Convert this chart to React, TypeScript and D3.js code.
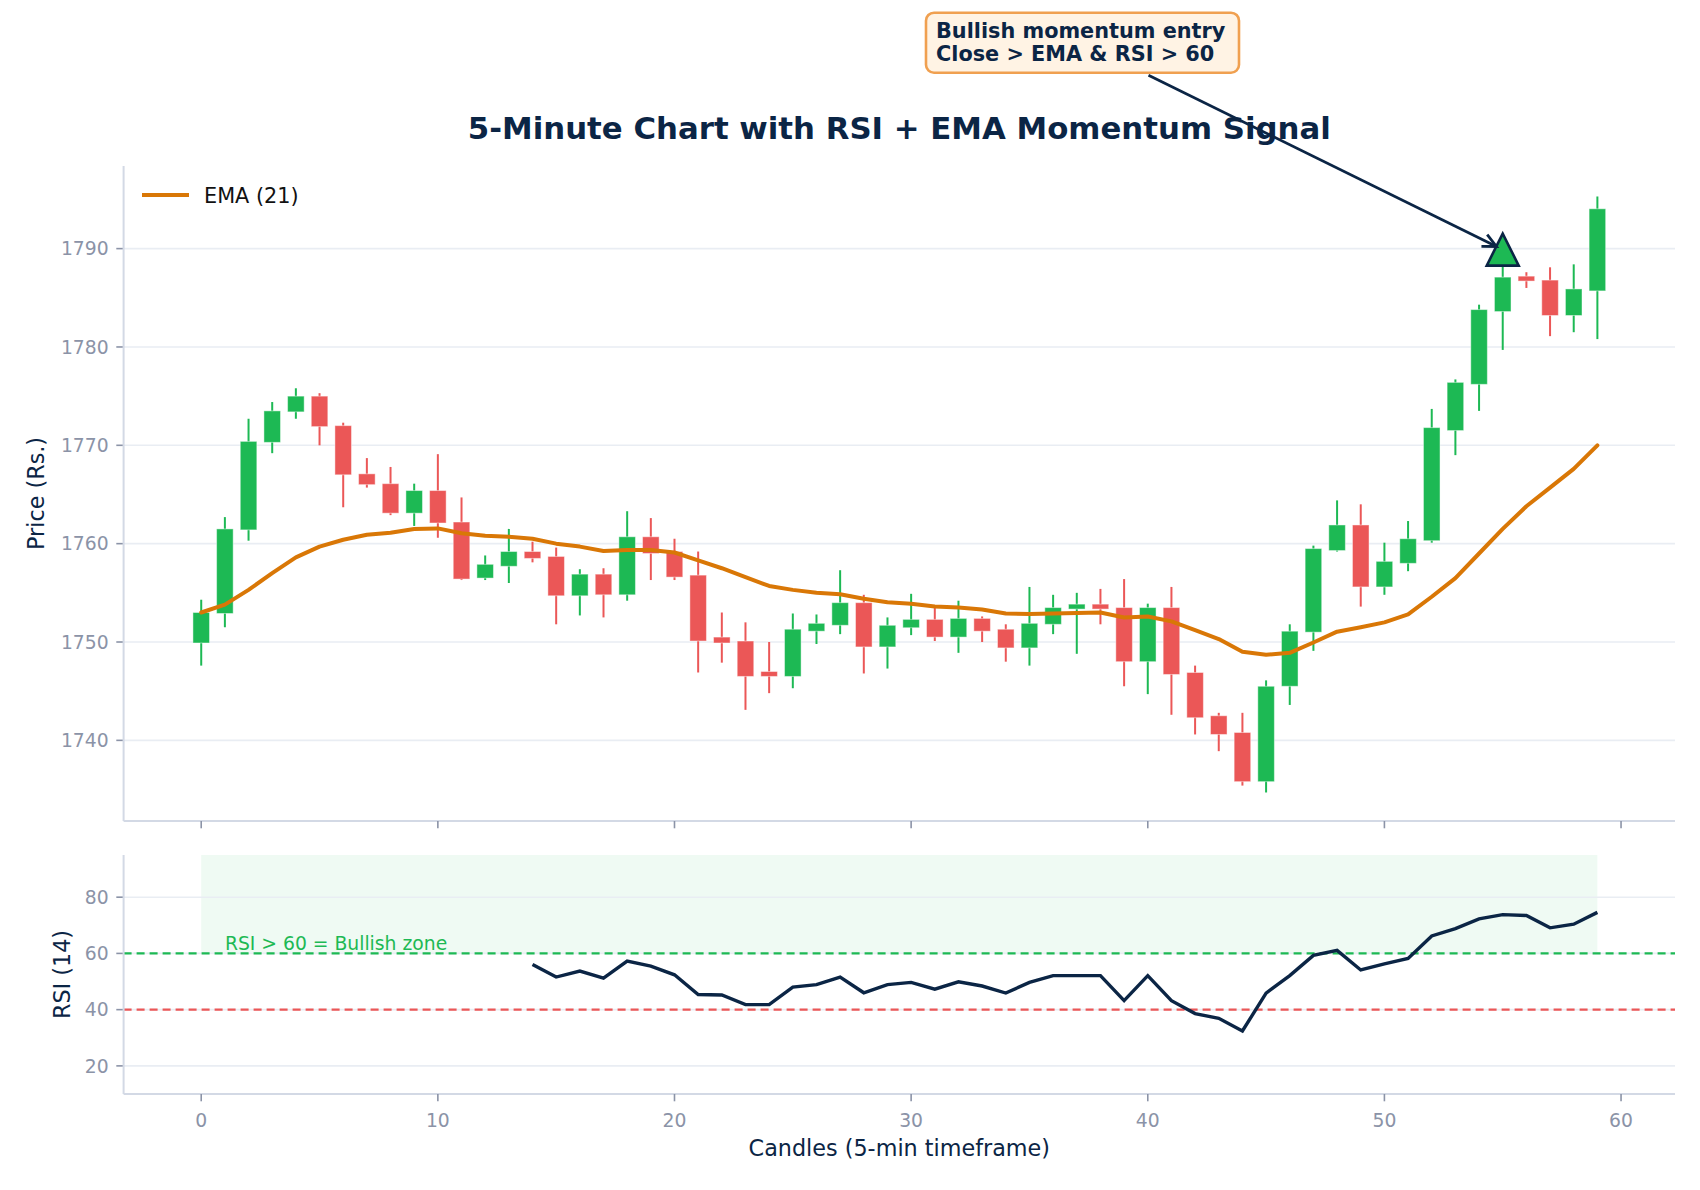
import React from 'react'
import * as d3 from 'd3'

// Candle data (index 0..59)
const opens = [
  1749.9, 1752.9, 1761.4, 1770.3, 1773.4, 1775.0, 1772.0, 1767.1, 1766.1, 1763.1,
  1765.4, 1762.2, 1756.5, 1757.7, 1759.2, 1758.7, 1754.7, 1756.9, 1754.8, 1760.7,
  1759.2, 1756.8, 1750.5, 1750.1, 1747.0, 1746.5, 1751.1, 1751.7, 1754.0, 1749.5,
  1751.45, 1752.3, 1750.5, 1752.4, 1751.3, 1749.4, 1751.8, 1753.35, 1753.85, 1753.5,
  1748.0, 1753.5, 1746.9, 1742.5, 1740.8, 1735.8, 1745.5, 1751.0, 1759.3, 1761.9,
  1755.6, 1758.0, 1760.3, 1771.5, 1776.2, 1783.6, 1787.2, 1786.8, 1783.2, 1785.7,
]
const highs = [
  1754.3, 1762.7, 1772.7, 1774.4, 1775.8, 1775.3, 1772.3, 1768.7, 1767.8, 1766.1,
  1769.1, 1764.7, 1758.8, 1761.5, 1760.2, 1759.6, 1757.4, 1757.5, 1763.3, 1762.6,
  1760.5, 1759.2, 1753.0, 1752.0, 1750.0, 1752.9, 1752.8, 1757.3, 1754.8, 1752.5,
  1754.9, 1753.5, 1754.2, 1752.6, 1751.8, 1755.6, 1754.8, 1755.0, 1755.4, 1756.4,
  1753.9, 1755.6, 1747.6, 1742.8, 1742.8, 1746.1, 1751.8, 1759.8, 1764.4, 1764.0,
  1760.1, 1762.3, 1773.7, 1776.7, 1784.3, 1788.4, 1787.6, 1788.1, 1788.4, 1795.3,
]
const lows = [
  1747.6, 1751.5, 1760.3, 1769.2, 1772.7, 1770.0, 1763.7, 1765.7, 1762.9, 1761.8,
  1760.6, 1756.3, 1756.3, 1756.0, 1758.1, 1751.8, 1752.7, 1752.5, 1754.2, 1756.3,
  1756.3, 1746.9, 1747.9, 1743.1, 1744.8, 1745.3, 1749.8, 1750.8, 1746.8, 1747.3,
  1750.7, 1750.1, 1748.9, 1750.0, 1748.0, 1747.6, 1750.8, 1748.8, 1751.8, 1745.5,
  1744.7, 1742.6, 1740.6, 1738.9, 1735.4, 1734.7, 1743.6, 1749.1, 1759.2, 1753.6,
  1754.8, 1757.2, 1760.1, 1769.0, 1773.5, 1779.7, 1786.0, 1781.1, 1781.5, 1780.8,
]
const closes = [
  1753.0, 1761.5, 1770.4, 1773.5, 1775.0, 1771.9, 1767.0, 1766.0, 1763.1, 1765.4,
  1762.1, 1756.4, 1757.9, 1759.2, 1758.5, 1754.7, 1756.9, 1754.8, 1760.7, 1759.0,
  1756.6, 1750.1, 1749.9, 1746.5, 1746.5, 1751.3, 1751.9, 1754.0, 1749.5, 1751.7,
  1752.3, 1750.5, 1752.4, 1751.1, 1749.4, 1751.9, 1753.5, 1753.85, 1753.35, 1748.0,
  1753.5, 1746.7, 1742.3, 1740.6, 1735.8, 1745.5, 1751.1, 1759.5, 1761.9, 1755.6,
  1758.2, 1760.5, 1771.8, 1776.4, 1783.8, 1787.1, 1786.7, 1783.2, 1785.9, 1794.05,
]

// EMA (21) as drawn
const emaValues = [
  1753.0, 1753.8, 1755.3, 1757.0, 1758.6, 1759.7, 1760.4, 1760.9, 1761.1, 1761.5,
  1761.55, 1761.05, 1760.8, 1760.7, 1760.5, 1760.0, 1759.7, 1759.25, 1759.35, 1759.35,
  1759.1, 1758.3, 1757.5, 1756.6, 1755.7, 1755.3, 1755.0, 1754.85, 1754.4, 1754.05,
  1753.9, 1753.6, 1753.5, 1753.3, 1752.9, 1752.85, 1752.9, 1752.95, 1753.0, 1752.5,
  1752.6, 1752.1, 1751.2, 1750.3, 1749.0, 1748.7, 1748.9, 1749.95, 1751.05, 1751.5,
  1752.0, 1752.8, 1754.6, 1756.5, 1759.0, 1761.5, 1763.8, 1765.7, 1767.6, 1770.0,
]

// RSI (14), first value at candle 14
const rsiStart = 14
const rsiValues = [
  56.1, 51.6, 53.7, 51.2, 57.3, 55.5, 52.4,
  45.4, 45.2, 41.8, 41.8, 48.0, 48.9, 51.6, 46.0, 48.9,
  49.7, 47.3, 49.9, 48.4, 45.9, 49.7, 52.1, 52.1, 52.1, 43.2,
  52.1, 43.2, 38.6, 36.9, 32.4, 45.9, 52.1, 59.3, 61.1, 54.1,
  56.3, 58.2, 66.2, 68.8, 72.3, 73.8, 73.5, 69.1, 70.4, 74.6,
]

const priceTicks = [1740, 1750, 1760, 1770, 1780, 1790]
const rsiTicks = [20, 40, 60, 80]
const xTicks = [0, 10, 20, 30, 40, 50, 60]
const rsiBull = 60
const rsiBear = 40
const signalIndex = 55
const signalPrice = 1789.9

const GREEN = '#1db954'
const RED = '#eb5757'
const ORANGE = '#d97706'
const NAVY = '#0b2545'
const TICK = '#8b93a7'
const SPINE = '#d3d9e5'
const GRID = '#e9edf3'
const FONT = '"DejaVu Sans", sans-serif'

const W = 1700
const H = 1190
const left = 123.6
const right = 1675
const top1 = 166
const bot1 = 821
const top2 = 855
const bot2 = 1094

const App: React.FC = () => {
  const x = d3.scaleLinear().domain([-3.28, 62.28]).range([left, right])
  const yP = d3.scaleLinear().domain([1731.8, 1798.4]).range([bot1, top1])
  const yR = d3.scaleLinear().domain([10, 95]).range([bot2, top2])

  const bodyW = x(0.35) - x(-0.35)

  const emaLine = d3.line<number>()
    .x((_, i) => x(i))
    .y(d => yP(d))

  const rsiLine = d3.line<number>()
    .x((_, i) => x(i + rsiStart))
    .y(d => yR(d))

  // signal marker + annotation arrow
  const mx = x(signalIndex)
  const my = yP(signalPrice)
  const box = { x: 926, y: 12.7, w: 313, h: 60 }
  const bc = { x: box.x + box.w / 2, y: box.y + box.h / 2 }
  const dx = mx - bc.x
  const dy = my - bc.y
  const len = Math.sqrt(dx * dx + dy * dy)
  const ux = dx / len
  const uy = dy / len
  const sy = box.y + box.h + 2.5
  const sx = bc.x + (sy - bc.y) * (dx / dy)
  const tipX = mx - ux * 7
  const tipY = my - uy * 7
  const headLen = 15
  const ang = Math.atan2(uy, ux)
  const h1 = [tipX - headLen * Math.cos(ang - 0.45), tipY - headLen * Math.sin(ang - 0.45)]
  const h2 = [tipX - headLen * Math.cos(ang + 0.45), tipY - headLen * Math.sin(ang + 0.45)]

  return (
    <svg width={W} height={H} viewBox={`0 0 ${W} ${H}`}
      style={{ position: 'absolute', left: 0, top: 0, background: '#fff' }}
      fontFamily={FONT}>
      <rect width={W} height={H} fill="#fff" />

      {/* title */}
      <text x={(left + right) / 2} y={139.3} textAnchor="middle" fontSize={30.8}
        fontWeight="bold" fill={NAVY}>5-Minute Chart with RSI + EMA Momentum Signal</text>

      {/* ---- price panel ---- */}
      {priceTicks.map(t => (
        <g key={t}>
          <line x1={left} x2={right} y1={yP(t)} y2={yP(t)} stroke={GRID} strokeWidth={1.6} />
          <line x1={left - 7.3} x2={left} y1={yP(t)} y2={yP(t)} stroke={TICK} strokeWidth={1.6} />
          <text x={left - 15} y={yP(t) + 6.8} textAnchor="end" fontSize={18.75} fill={TICK}>{t}</text>
        </g>
      ))}

      {opens.map((o, i) => {
        const c = closes[i]
        const col = c >= o ? GREEN : RED
        const yt = yP(Math.max(o, c))
        const yb = yP(Math.min(o, c))
        return (
          <g key={i}>
            <line x1={x(i)} x2={x(i)} y1={yP(highs[i])} y2={yP(lows[i])} stroke={col} strokeWidth={2} />
            <rect x={x(i) - bodyW / 2} y={yt} width={bodyW} height={Math.max(yb - yt, 1.5)}
              fill={col} stroke="#fff" strokeOpacity={0.45} strokeWidth={1} />
          </g>
        )
      })}

      <path d={emaLine(emaValues) ?? ''} fill="none" stroke={ORANGE} strokeWidth={4}
        strokeLinejoin="round" strokeLinecap="round" />

      {/* signal triangle */}
      <polygon points={`${mx},${my - 16} ${mx - 16},${my + 16} ${mx + 16},${my + 16}`}
        fill={GREEN} stroke={NAVY} strokeWidth={2.6} strokeLinejoin="miter" />

      {/* spines + x ticks */}
      <line x1={left} x2={left} y1={top1} y2={bot1} stroke={SPINE} strokeWidth={2} />
      <line x1={left} x2={right} y1={bot1} y2={bot1} stroke={SPINE} strokeWidth={2} />
      {xTicks.map(t => (
        <line key={t} x1={x(t)} x2={x(t)} y1={bot1} y2={bot1 + 7.3} stroke={TICK} strokeWidth={1.6} />
      ))}

      {/* legend */}
      <line x1={142} x2={189} y1={195} y2={195} stroke={ORANGE} strokeWidth={4} />
      <text x={204} y={202.7} fontSize={20.8} fill="#111">EMA (21)</text>

      <text transform={`translate(44, ${(top1 + bot1) / 2}) rotate(-90)`} textAnchor="middle"
        fontSize={22.3} fill={NAVY}>Price (Rs.)</text>

      {/* ---- RSI panel ---- */}
      <rect x={x(0)} y={top2} width={x(59) - x(0)} height={yR(rsiBull) - top2}
        fill={GREEN} fillOpacity={0.07} />
      {rsiTicks.map(t => (
        <g key={t}>
          <line x1={left} x2={right} y1={yR(t)} y2={yR(t)} stroke={GRID} strokeWidth={1.6} />
          <line x1={left - 7.3} x2={left} y1={yR(t)} y2={yR(t)} stroke={TICK} strokeWidth={1.6} />
          <text x={left - 15} y={yR(t) + 6.8} textAnchor="end" fontSize={18.75} fill={TICK}>{t}</text>
        </g>
      ))}
      <line x1={left} x2={right} y1={yR(rsiBull)} y2={yR(rsiBull)} stroke={GREEN}
        strokeWidth={2.2} strokeDasharray="8 5" />
      <line x1={left} x2={right} y1={yR(rsiBear)} y2={yR(rsiBear)} stroke={RED}
        strokeWidth={2.2} strokeDasharray="8 5" />
      <text x={x(1)} y={yR(rsiBull) + -3} fontSize={18.75} fill={GREEN}>RSI &gt; 60 = Bullish zone</text>

      <path d={rsiLine(rsiValues) ?? ''} fill="none" stroke={NAVY} strokeWidth={3.4}
        strokeLinejoin="miter" />

      <line x1={left} x2={left} y1={top2} y2={bot2} stroke={SPINE} strokeWidth={2} />
      <line x1={left} x2={right} y1={bot2} y2={bot2} stroke={SPINE} strokeWidth={2} />
      {xTicks.map(t => (
        <g key={t}>
          <line x1={x(t)} x2={x(t)} y1={bot2} y2={bot2 + 7.3} stroke={TICK} strokeWidth={1.6} />
          <text x={x(t)} y={1127} textAnchor="middle" fontSize={18.75} fill={TICK}>{t}</text>
        </g>
      ))}

      <text transform={`translate(70, ${(top2 + bot2) / 2}) rotate(-90)`} textAnchor="middle"
        fontSize={22.3} fill={NAVY}>RSI (14)</text>
      <text x={(left + right) / 2} y={1156} textAnchor="middle" fontSize={22.3}
        fill={NAVY}>Candles (5-min timeframe)</text>

      {/* ---- annotation ---- */}
      <line x1={sx} y1={sy} x2={tipX} y2={tipY} stroke={NAVY} strokeWidth={2.8} />
      <polyline points={`${h1[0]},${h1[1]} ${tipX},${tipY} ${h2[0]},${h2[1]}`} fill="none"
        stroke={NAVY} strokeWidth={2.8} strokeLinejoin="miter" />
      <rect x={box.x} y={box.y} width={box.w} height={box.h} rx={8} ry={8}
        fill="#fff3e4" stroke="#f0a050" strokeWidth={2.6} />
      <text x={936} y={37.7} fontSize={20.8} fontWeight="bold" fill={NAVY}>Bullish momentum entry</text>
      <text x={936} y={60.7} fontSize={20.8} fontWeight="bold" fill={NAVY}>Close &gt; EMA &amp; RSI &gt; 60</text>
    </svg>
  )
}

export default App
